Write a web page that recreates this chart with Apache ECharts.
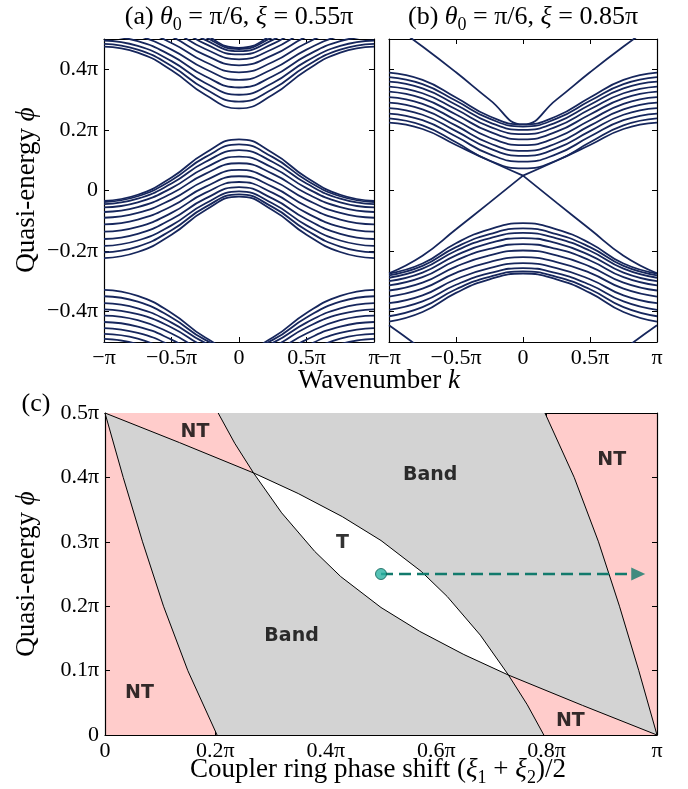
<!DOCTYPE html>
<html>
<head>
<meta charset="utf-8">
<script src="https://cdn.jsdelivr.net/npm/echarts@6/dist/echarts.min.js"></script>
<style>html,body{margin:0;padding:0;background:#fff;}#c{width:688px;height:789px;}</style>
</head>
<body>
<div id="c"></div>
<script>
// ---------- DATA (values in units of pi) ----------
// sampled wavenumbers (half range, spectrum is symmetric in k)
const kHalf = [0, 0.25, 0.5, 0.75, 1];
// Panel (a): xi = 0.55pi
const bandA_top = [
  [0.271, 0.316, 0.397, 0.455, 0.475],
  [0.293, 0.335, 0.411, 0.465, 0.484],
  [0.316, 0.355, 0.427, 0.477, 0.495],
  [0.340, 0.377, 0.445, 0.493, 0.510],
  [0.365, 0.401, 0.465, 0.511, 0.527],
  [0.390, 0.424, 0.487, 0.530, 0.546],
  [0.413, 0.447, 0.508, 0.551, 0.566],
  [0.433, 0.467, 0.528, 0.572, 0.587],
  [0.449, 0.484, 0.548, 0.592, 0.608],
  [0.460, 0.497, 0.564, 0.611, 0.628],
  [0.467, 0.507, 0.581, 0.633, 0.651],
  [0.471, 0.515, 0.596, 0.652, 0.672]
];
const bandA_mid = [
  [0.169, 0.124, 0.043, -0.014, -0.034],
  [0.152, 0.110, 0.034, -0.019, -0.038],
  [0.133, 0.094, 0.023, -0.027, -0.045],
  [0.112, 0.075, 0.008, -0.039, -0.056],
  [0.090, 0.055, -0.010, -0.055, -0.071],
  [0.068, 0.033, -0.030, -0.074, -0.090],
  [0.047, 0.012, -0.052, -0.096, -0.112],
  [0.028, -0.008, -0.074, -0.120, -0.136],
  [0.011, -0.027, -0.095, -0.143, -0.160],
  [-0.003, -0.043, -0.115, -0.165, -0.183],
  [-0.013, -0.055, -0.131, -0.185, -0.204],
  [-0.020, -0.065, -0.146, -0.203, -0.223]
];
// Panel (b): xi = 0.85pi
const bandB_top = [
  [0.218, 0.245, 0.307, 0.365, 0.389],
  [0.211, 0.237, 0.296, 0.351, 0.374],
  [0.200, 0.225, 0.283, 0.337, 0.359],
  [0.186, 0.211, 0.268, 0.321, 0.343],
  [0.169, 0.194, 0.251, 0.304, 0.326],
  [0.150, 0.175, 0.232, 0.286, 0.308],
  [0.131, 0.156, 0.214, 0.268, 0.290],
  [0.114, 0.139, 0.196, 0.250, 0.272],
  [0.095, 0.120, 0.178, 0.232, 0.254],
  [0.073, 0.099, 0.159, 0.215, 0.238]
];
const bandB_topLowest = [0.049, 0.098, 0.150, 0.203, 0.224];
const bandB_bot = [
  [-0.108, -0.128, -0.174, -0.241, -0.274],
  [-0.125, -0.144, -0.187, -0.249, -0.280],
  [-0.140, -0.158, -0.199, -0.258, -0.288],
  [-0.157, -0.174, -0.214, -0.271, -0.299],
  [-0.177, -0.193, -0.231, -0.286, -0.313],
  [-0.198, -0.214, -0.251, -0.304, -0.330],
  [-0.220, -0.236, -0.272, -0.324, -0.350],
  [-0.240, -0.256, -0.293, -0.346, -0.372],
  [-0.256, -0.273, -0.311, -0.366, -0.394],
  [-0.267, -0.285, -0.326, -0.385, -0.415],
  [-0.274, -0.293, -0.338, -0.401, -0.433]
];
const edgeB_upper = [0.218, 0.300, 0.390, 0.475, 0.555];
const edgeB_lower = [0.049, -0.040, -0.128, -0.215, -0.273];
const PERIOD = 1; // quasi-energy is periodic (period pi)

// Panel (c): phase diagram boundaries [x (units of pi), phi (units of pi)]
const curveA  = [[0, 0.5], [0.033, 0.4], [0.068, 0.3], [0.106, 0.2], [0.150, 0.1], [0.203, 0]];
const curveD  = [[0.797, 0.5], [0.850, 0.4], [0.894, 0.3], [0.932, 0.2], [0.967, 0.1], [1, 0]];
const curveC1 = [[0, 0.5], [0.135, 0.454], [0.269, 0.407], [0.35, 0.375], [0.43, 0.339], [0.5, 0.302],
                 [0.573, 0.254], [0.62, 0.215], [0.68, 0.155], [0.731, 0.093], [0.765, 0.047], [0.795, 0]];
const curveC2 = [[0.205, 0.5], [0.235, 0.453], [0.269, 0.407], [0.32, 0.345], [0.38, 0.285], [0.427, 0.246],
                 [0.5, 0.198], [0.57, 0.161], [0.65, 0.125], [0.731, 0.093], [0.865, 0.046], [1, 0]];
const crossUpper = 2; // index of the upper crossing in C1 and C2
const crossLower = 9; // index of the lower crossing in C1 and C2
const regionLabels = [
  [0.163, 0.471, 'NT'], [0.589, 0.404, 'Band'], [0.918, 0.427, 'NT'], [0.43, 0.298, 'T'],
  [0.338, 0.153, 'Band'], [0.0625, 0.065, 'NT'], [0.843, 0.021, 'NT']
];
const arrowStart = [0.5, 0.25];
const arrowEnd = [0.955, 0.25];
const arrowHead = [0.966, 0.25];

const phiTicksAB = [-0.4, -0.2, 0, 0.2, 0.4];

// ---------- helpers ----------
const SERIF = '"Liberation Serif", "DejaVu Serif", serif';
const NAVY = '#16265c';
const PINK = '#ffcccb';
const GRAY = '#d3d3d3';
const TICK_FS = 22;

function leftHalf(half, shift) {
  const pts = [];
  for (let i = kHalf.length - 1; i >= 0; i--) pts.push([-kHalf[i], half[i] + shift]);
  return pts;
}
function rightHalf(half, shift) {
  return kHalf.map((k, i) => [k, half[i] + shift]);
}
function fullCurve(half, shift) {
  return leftHalf(half, shift).concat(rightHalf(half, shift).slice(1));
}
function piFmt(v) {
  if (Math.abs(v) < 1e-9) return '0';
  const s = v < 0 ? '\u2212' : '';
  const a = Math.abs(v);
  return s + (Math.abs(a - 1) < 1e-9 ? '' : String(+a.toFixed(2))) + '\u03c0';
}
const tickStyle = { show: true, inside: true, length: 5, lineStyle: { color: '#000', width: 1 } };
const lineStyleAx = { show: true, onZero: false, lineStyle: { color: '#000', width: 1.2 } };

function mkX(g, pos, min, max, interval, showLabel) {
  return {
    type: 'value', gridIndex: g, position: pos, min, max, interval,
    axisLine: lineStyleAx, axisTick: tickStyle, splitLine: { show: false },
    axisLabel: { show: showLabel, formatter: piFmt, color: '#000', fontFamily: SERIF, fontSize: TICK_FS, margin: 5 }
  };
}
function mkY(g, pos, min, max, interval, showLabel, custom) {
  const ax = {
    type: 'value', gridIndex: g, position: pos, min, max,
    axisLine: lineStyleAx, axisTick: Object.assign({}, tickStyle), splitLine: { show: false },
    axisLabel: { show: showLabel, formatter: piFmt, color: '#000', fontFamily: SERIF, fontSize: TICK_FS, margin: 6 }
  };
  if (custom) {
    ax.axisTick.customValues = custom;
    ax.axisLabel.customValues = custom;
  } else {
    ax.interval = interval;
  }
  return ax;
}

const series = [];
function lineSeries(g, data) {
  return {
    type: 'line', xAxisIndex: g * 2, yAxisIndex: g * 2, data: data,
    smooth: 0.5, symbol: 'none', showSymbol: false, clip: true, silent: true,
    lineStyle: { color: NAVY, width: 1.8 }
  };
}
function addBand(curves, g, shift) {
  curves.forEach(h => series.push(lineSeries(g, fullCurve(h, shift))));
}
// curves with a cusp at k = 0 (drawn as two smooth halves)
function addCusp(curves, g, shift) {
  curves.forEach(h => {
    series.push(lineSeries(g, leftHalf(h, shift)));
    series.push(lineSeries(g, rightHalf(h, shift)));
  });
}
addBand(bandA_top, 0, 0);
addBand(bandA_top, 0, -PERIOD);
addBand(bandA_mid, 0, 0);
addBand(bandB_top, 1, 0);
addCusp([bandB_topLowest], 1, 0);
addBand(bandB_bot, 1, 0);
addBand([edgeB_upper], 1, 0);
addBand([edgeB_upper], 1, -PERIOD);
addCusp([edgeB_lower], 1, 0);

// Panel (c) regions
const polys = [
  { pts: curveA.concat(curveD.slice().reverse()), color: GRAY },
  { pts: curveC1.slice(0, crossUpper + 1).concat(curveC2.slice(0, crossUpper + 1).reverse()), color: PINK },
  { pts: curveC1.slice(crossUpper, crossLower + 1).concat(curveC2.slice(crossUpper, crossLower + 1).reverse()), color: '#ffffff' },
  { pts: curveC1.slice(crossLower).concat(curveC2.slice(crossLower).reverse()), color: PINK }
];
series.push({
  type: 'custom', xAxisIndex: 4, yAxisIndex: 4, silent: true, z: 1,
  encode: { x: 0, y: 1 },
  data: polys.map((p, i) => [0.5, 0.25, i]),
  renderItem: function (params, api) {
    const p = polys[api.value(2)];
    return { type: 'polygon', shape: { points: p.pts.map(pt => api.coord(pt)) }, style: { fill: p.color, stroke: null } };
  }
});
[curveA, curveD, curveC1, curveC2].forEach(c => series.push({
  type: 'line', xAxisIndex: 4, yAxisIndex: 4, data: c, symbol: 'none', silent: true, z: 3,
  lineStyle: { color: '#000', width: 1 }
}));
series.push({
  type: 'scatter', xAxisIndex: 4, yAxisIndex: 4, data: regionLabels, symbolSize: 1, silent: true, z: 4,
  itemStyle: { color: 'rgba(0,0,0,0)' },
  label: { show: true, position: 'inside', formatter: p => p.value[2], color: '#000',
           fontFamily: '"DejaVu Sans", sans-serif', fontWeight: 'bold', fontSize: 19 }
});
series.push({
  type: 'line', xAxisIndex: 4, yAxisIndex: 4, data: [arrowStart, arrowEnd], symbol: 'none', silent: true, z: 5,
  lineStyle: { color: '#127a6c', width: 2.5, type: [12, 6] }
});
series.push({
  type: 'scatter', xAxisIndex: 4, yAxisIndex: 4, data: [arrowHead], symbol: 'triangle', symbolRotate: -90,
  symbolSize: [13, 14], silent: true, z: 6, itemStyle: { color: '#127a6c' }
});
series.push({
  type: 'scatter', xAxisIndex: 4, yAxisIndex: 4, data: [arrowStart], symbol: 'circle',
  symbolSize: 11, silent: true, z: 7, itemStyle: { color: '#2bb3a3', borderColor: '#0d5e54', borderWidth: 1 }
});

function rich(fs) {
  return {
    n: { fontFamily: SERIF, fontSize: fs, lineHeight: fs + 8, fill: '#000' },
    i: { fontFamily: SERIF, fontSize: fs, lineHeight: fs + 8, fontStyle: 'italic', fill: '#000' },
    s: { fontFamily: SERIF, fontSize: Math.round(fs * 0.68), lineHeight: Math.round(fs * 0.68), verticalAlign: 'bottom', fill: '#000' }
  };
}
const TITLE_FS = 26, AXT_FS = 27;

const option = {
  animation: false,
  backgroundColor: '#fff',
  grid: [
    { left: 104, top: 39, width: 270, height: 303, outerBoundsMode: 'none' },
    { left: 389, top: 39, width: 268, height: 303, outerBoundsMode: 'none' },
    { left: 105, top: 413, width: 552, height: 322, show: true, backgroundColor: PINK, borderWidth: 0, outerBoundsMode: 'none' }
  ],
  xAxis: [
    mkX(0, 'bottom', -1, 1, 0.5, true), mkX(0, 'top', -1, 1, 0.5, false),
    mkX(1, 'bottom', -1, 1, 0.5, true), mkX(1, 'top', -1, 1, 0.5, false),
    mkX(2, 'bottom', 0, 1, 0.2, true), mkX(2, 'top', 0, 1, 0.2, false)
  ],
  yAxis: [
    mkY(0, 'left', -0.5, 0.5, null, true, phiTicksAB), mkY(0, 'right', -0.5, 0.5, null, false, phiTicksAB),
    mkY(1, 'left', -0.5, 0.5, null, false, phiTicksAB), mkY(1, 'right', -0.5, 0.5, null, false, phiTicksAB),
    mkY(2, 'left', 0, 0.5, 0.1, true, null), mkY(2, 'right', 0, 0.5, 0.1, false, null)
  ],
  series: series,
  graphic: [
    { type: 'text', x: 239, y: 17, z: 10, style: { text: '{n|(a) }{i|θ}{s|0}{n| = π/6, }{i|ξ}{n| = 0.55π}', rich: rich(TITLE_FS), align: 'center', verticalAlign: 'middle' } },
    { type: 'text', x: 523, y: 17, z: 10, style: { text: '{n|(b) }{i|θ}{s|0}{n| = π/6, }{i|ξ}{n| = 0.85π}', rich: rich(TITLE_FS), align: 'center', verticalAlign: 'middle' } },
    { type: 'text', x: 379, y: 381, z: 10, style: { text: '{n|Wavenumber }{i|k}', rich: rich(AXT_FS), align: 'center', verticalAlign: 'middle' } },
    { type: 'text', x: 27, y: 190, rotation: Math.PI / 2, z: 10, style: { text: '{n|Quasi-energy }{i|ϕ}', rich: rich(AXT_FS), align: 'center', verticalAlign: 'middle' } },
    { type: 'text', x: 27, y: 574, rotation: Math.PI / 2, z: 10, style: { text: '{n|Quasi-energy }{i|ϕ}', rich: rich(AXT_FS), align: 'center', verticalAlign: 'middle' } },
    { type: 'text', x: 36, y: 404, z: 10, style: { text: '{n|(c)}', rich: rich(TITLE_FS), align: 'center', verticalAlign: 'middle' } },
    { type: 'text', x: 378, y: 770, z: 10, style: { text: '{n|Coupler ring phase shift (}{i|ξ}{s|1}{n| + }{i|ξ}{s|2}{n|)/2}', rich: rich(AXT_FS), align: 'center', verticalAlign: 'middle' } }
  ]
};
const chart = echarts.init(document.getElementById('c'), null, { renderer: 'canvas' });
chart.setOption(option);
</script>
</body>
</html>
